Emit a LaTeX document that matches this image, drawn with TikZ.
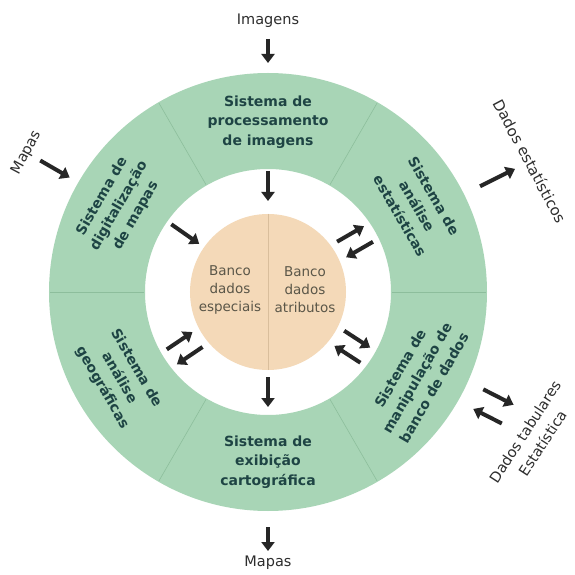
\documentclass[tikz,border=0pt]{standalone}
\usepackage{fontspec}
\setmainfont{DejaVu Sans}
\usetikzlibrary{arrows.meta}
\definecolor{ringgreen}{HTML}{A8D5B6}
\definecolor{divgreen}{HTML}{8DBE9C}
\definecolor{corebeige}{HTML}{F4D9B8}
\definecolor{coreline}{HTML}{D9BE9C}
\definecolor{ringtext}{HTML}{1E4444}
\definecolor{coretext}{HTML}{5A5648}
\definecolor{labeltext}{HTML}{2E2E2E}
\definecolor{arrowcol}{HTML}{262626}
\begin{document}
\begin{tikzpicture}[x=1pt,y=1pt,
  ringlabel/.style={align=center, text=ringtext, font=\fontsize{14}{19.5}\selectfont\bfseries, inner sep=0pt},
  corelabel/.style={align=center, text=coretext, font=\fontsize{13.5}{18}\selectfont, inner sep=0pt},
  outlabel/.style={align=center, text=labeltext, font=\fontsize{14.5}{18}\selectfont, inner sep=0pt},
  flowarrow/.style={draw=arrowcol, line width=4pt, -{Triangle[length=9pt,width=13pt]}},
]
\useasboundingbox (-268,-283) rectangle (306,292);
\fill[white] (-268,-283) rectangle (306,292);
% ring
\fill[ringgreen, even odd rule] (0,0) circle (219) (0,0) circle (123);
\foreach \a in {0,60,...,300} \draw[divgreen, line width=0.6pt] (\a:124) -- (\a:218);
% core
\node[circle, fill=corebeige, minimum size=156pt, inner sep=0pt] (core) at (0,0) {};
\draw[coreline, line width=0.6pt] (core.north) -- (core.south);
% ring texts
\node[ringlabel] (proc) at (90:170) {Sistema de\\processamento\\de imagens};
\node[ringlabel, rotate=-60] (estat) at (30:172) {Sistema de\\análise\\estatísticas};
\node[ringlabel, rotate=60] (manip) at (-30:172) {Sistema de\\manipulação de\\banco de dados};
\node[ringlabel] (exib) at (270:170) {Sistema de\\exibição\\cartográfica};
\node[ringlabel, rotate=-60] (geo) at (210:172) {Sistema de\\análise\\geográficas};
\node[ringlabel, rotate=60] (digit) at (150:172) {Sistema de\\digitalização\\de mapas};
% core texts
\node[corelabel] (spat) at (-38,2) {Banco\\dados\\especiais};
\node[corelabel] (attr) at (37,2) {Banco\\dados\\atributos};
% outer labels
\node[outlabel] (img) at (0,271) {Imagens};
\node[outlabel] (mapout) at (0,-271) {Mapas};
\node[outlabel, rotate=62] (mapin) at (150:279) {Mapas};
\node[outlabel, rotate=-62, font=\fontsize{15}{18}\selectfont] (dest) at (26.5:293) {Dados estatísticos};
\node[outlabel, rotate=57, font=\fontsize{14.5}{21}\selectfont] (dtab) at (-28.7:303) {Dados tabulares\\Estatística};
% inner single arrows
\coordinate (ti1) at (90:121); \coordinate (ti2) at (90:91);
\coordinate (bi1) at (270:85); \coordinate (bi2) at (270:115);
\coordinate (li1) at (145:118); \coordinate (li2) at (145:84);
\draw[flowarrow] (ti1) -- (ti2);
\draw[flowarrow] (bi1) -- (bi2);
\draw[flowarrow] (li1) -- (li2);
% inner pairs (outward arrow on counter-clockwise side)
\foreach \a/\n in {30/ne,-33/se,214/sw}{
  \coordinate (po\n1) at ([shift={(\a+90:9)}]\a:85);
  \coordinate (po\n2) at ([shift={(\a+90:9)}]\a:116);
  \coordinate (pi\n1) at ([shift={(\a-90:9)}]\a:116);
  \coordinate (pi\n2) at ([shift={(\a-90:9)}]\a:85);
  \draw[flowarrow] (po\n1) -- (po\n2);
  \draw[flowarrow] (pi\n1) -- (pi\n2);
}
% outer arrows
\coordinate (oi1) at (90:253); \coordinate (oi2) at (90:229);
\coordinate (om1) at (150:263); \coordinate (om2) at (150:229);
\coordinate (od1) at (26.5:237); \coordinate (od2) at (26.5:276);
\coordinate (ob1) at (270:235); \coordinate (ob2) at (270:259);
\coordinate (oto1) at ([shift={(63:11)}]-27:236);
\coordinate (oto2) at ([shift={(63:11)}]-27:270);
\coordinate (oti1) at ([shift={(-117:11)}]-27:268);
\coordinate (oti2) at ([shift={(-117:11)}]-27:236);
\draw[flowarrow] (oi1) -- (oi2);
\draw[flowarrow] (om1) -- (om2);
\draw[flowarrow] (od1) -- (od2);
\draw[flowarrow] (ob1) -- (ob2);
\draw[flowarrow] (oto1) -- (oto2);
\draw[flowarrow] (oti1) -- (oti2);
\end{tikzpicture}
\end{document}
